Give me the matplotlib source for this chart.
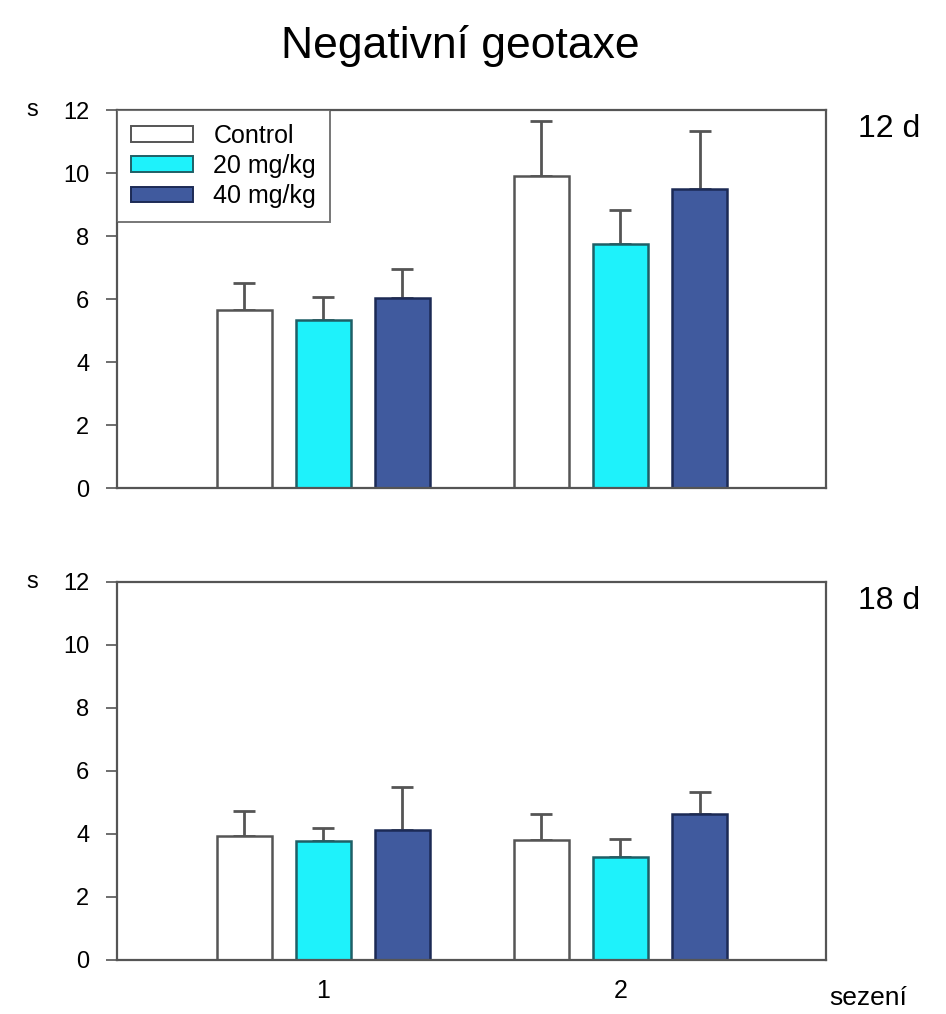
import numpy as np
import matplotlib.pyplot as plt
from matplotlib.patches import Patch

plt.rcParams['font.family'] = ['Liberation Sans', 'DejaVu Sans']

# ── data ───────────────────────────────────────────────────────────────────
sessions = [1, 2]
groups = ["Control", "20 mg/kg", "40 mg/kg"]

d12_mean = [[5.65, 9.90], [5.33, 7.75], [6.03, 9.49]]
d12_sem = [[0.86, 1.75], [0.73, 1.08], [0.92, 1.84]]

d18_mean = [[3.94, 3.81], [3.78, 3.27], [4.13, 4.63]]
d18_sem = [[0.79, 0.82], [0.41, 0.57], [1.36, 0.70]]

panel_labels = ["12 d", "18 d"]

face = ["white", "#1EF2FB", "#405A9E"]
edge = ["#555555", "#1f5f66", "#1c2a55"]
err_col = "#555555"

# ── figure ─────────────────────────────────────────────────────────────────
fig = plt.figure(figsize=(9.46, 10.14), dpi=100)
ax_top = fig.add_axes([0.1237, 0.5187, 0.7495, 0.3728])
ax_bot = fig.add_axes([0.1237, 0.0533, 0.7495, 0.3728])

width = 0.185
step = 0.266
x = np.array(sessions, dtype=float)

for ax, means, sems, lab in [(ax_top, d12_mean, d12_sem, panel_labels[0]),
                             (ax_bot, d18_mean, d18_sem, panel_labels[1])]:
    for i in range(3):
        pos = x + (i - 1) * step
        ax.bar(pos, means[i], width, color=face[i], edgecolor=edge[i],
               linewidth=1.8, zorder=2, label=groups[i])
        ax.errorbar(pos, means[i], yerr=[np.zeros(2), sems[i]], fmt="none",
                    ecolor=err_col, elinewidth=2, capsize=8, capthick=2,
                    zorder=1)
    ax.set_xlim(0.305, 2.692)
    ax.set_ylim(0, 12)
    ax.set_yticks(range(0, 13, 2))
    ax.tick_params(axis="y", direction="out", length=8, width=1.2,
                   colors="#555555", labelcolor="black", labelsize=17, pad=12)
    ax.tick_params(axis="x", length=0, labelsize=18, pad=14)
    for sp in ax.spines.values():
        sp.set_color("#555555")
        sp.set_linewidth(1.6)
    ax.text(-0.128, 1.0, "s", transform=ax.transAxes, fontsize=17,
            ha="left", va="center")
    ax.text(1.045, 0.95, lab, transform=ax.transAxes, fontsize=23,
            ha="left", va="center")

ax_top.set_xticks([])
ax_bot.set_xticks(sessions)
ax_bot.set_xticklabels([str(s) for s in sessions])
ax_bot.text(1.005, -0.1, "sezení", transform=ax_bot.transAxes, fontsize=19,
            ha="left", va="center")

handles = [Patch(facecolor=face[i], edgecolor=edge[i], linewidth=1.4)
           for i in range(3)]
leg = ax_top.legend(handles, groups, loc="upper left", fontsize=18,
                    frameon=True, fancybox=False, borderaxespad=0.0,
                    handlelength=2.5, handleheight=0.6, handletextpad=0.8,
                    labelspacing=0.25, borderpad=0.55)
leg.get_frame().set_edgecolor("#555555")
leg.get_frame().set_linewidth(1.4)

fig.text(0.487, 0.955, "Negativní geotaxe", fontsize=32, ha="center",
         va="center")

fig.savefig("out.png", dpi=100, facecolor="white")
